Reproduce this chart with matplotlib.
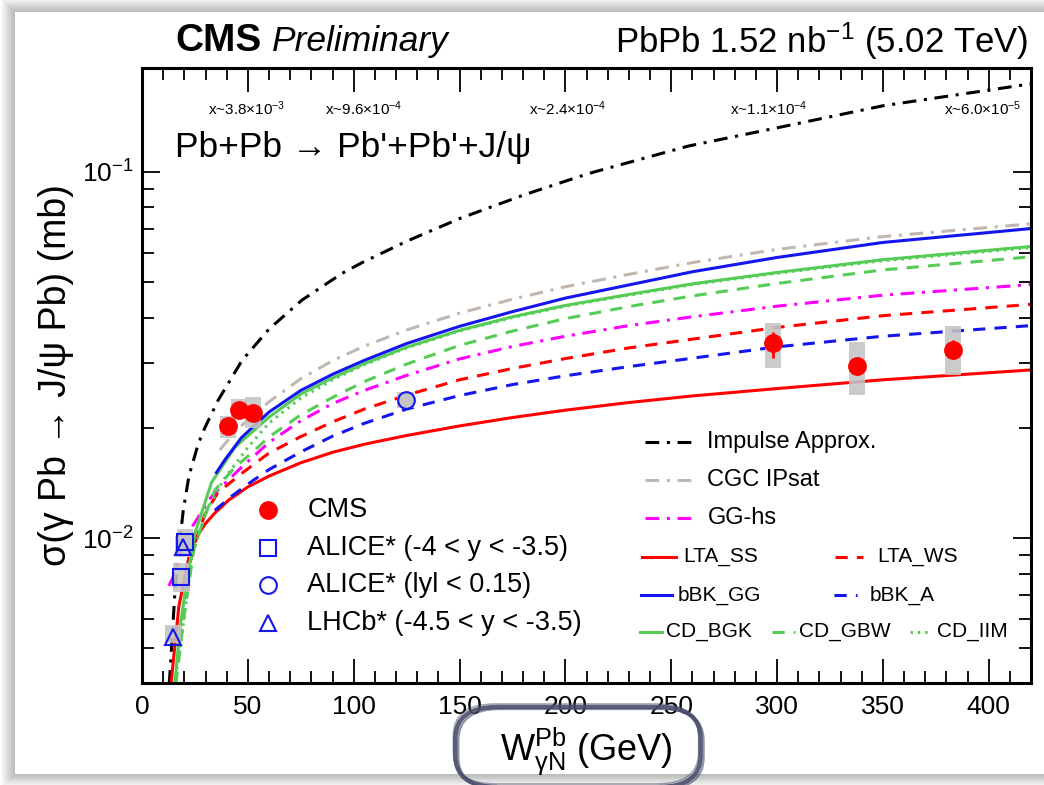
import numpy as np
import matplotlib
matplotlib.use("Agg")
import matplotlib.pyplot as plt
from matplotlib.patches import Rectangle, FancyBboxPatch
from matplotlib.ticker import LogLocator, MultipleLocator, NullFormatter

plt.rcParams['font.family'] = ['Liberation Sans', 'DejaVu Sans']
plt.rcParams['mathtext.fontset'] = 'custom'
plt.rcParams['mathtext.rm'] = 'Liberation Sans'
plt.rcParams['mathtext.it'] = 'Liberation Sans:italic'
plt.rcParams['mathtext.bf'] = 'Liberation Sans:bold'

# ---- model curves (W in GeV, sigma in mb) ----
w_ia = [12.9, 14.2, 15.6, 18, 19.5, 22.2, 26.6, 29.7, 36, 47.2, 60, 75.5, 94.3, 104,
        125, 150, 181, 211, 258, 300, 350, 420]
s_ia = [0.0040, 0.0053, 0.0072, 0.0100, 0.0119, 0.0148, 0.0181, 0.0200, 0.0238, 0.0305,
        0.0372, 0.0446, 0.0527, 0.0565, 0.0646, 0.0745, 0.0867, 0.0989, 0.1175, 0.1318,
        0.1514, 0.1738]

w_cgc = [36.8, 39.2, 45, 60, 75, 90, 105, 125, 150, 175, 200, 230, 260, 300, 350, 420]
s_cgc = [0.0174, 0.0181, 0.0198, 0.02355, 0.02723, 0.03048, 0.03342, 0.03698, 0.04111,
         0.04487, 0.04853, 0.05248, 0.05649, 0.06138, 0.06653, 0.07211]

w_gghs = [12.7, 14.6, 17.4, 24, 32.9, 47, 60, 75, 90, 105, 125, 150, 175, 200, 230, 260,
          300, 350, 420]
s_gghs = [0.0074, 0.0078, 0.0089, 0.0108, 0.0130, 0.0156, 0.01824, 0.02089, 0.02328, 0.02529,
          0.02780, 0.03083, 0.03334, 0.03556, 0.03802, 0.04018, 0.04295, 0.04603, 0.04920]

w_ltass = [13.7, 17.4, 22.2, 25, 29.7, 34.4, 41, 50.1, 60, 75, 90, 105, 125, 150, 175, 200,
           230, 260, 300, 350, 420]
s_ltass = [0.0040, 0.0065, 0.0089, 0.0099, 0.0109, 0.0117, 0.0127, 0.0138, 0.01476, 0.01605,
           0.01714, 0.01803, 0.01905, 0.02023, 0.02133, 0.02234, 0.02344, 0.02443, 0.02559,
           0.02704, 0.02877]

w_ltaws = [20, 25, 29.7, 35.8, 47, 60, 75, 90, 105, 125, 150, 175, 200, 230, 260, 300, 350, 420]
s_ltaws = [0.0075, 0.0097, 0.0116, 0.0133, 0.0150, 0.01706, 0.01892, 0.02075, 0.02249,
           0.02455, 0.02704, 0.02904, 0.03090, 0.03304, 0.03491, 0.03758, 0.04046, 0.04345]

w_bbkgg = [35.2, 39, 47, 60, 75, 90, 105, 125, 150, 175, 200, 230, 260, 300, 350, 420]
s_bbkgg = [0.0151, 0.0163, 0.0188, 0.02208, 0.02529, 0.02799, 0.03055, 0.03396, 0.03784,
           0.04150, 0.04519, 0.04909, 0.05333, 0.05834, 0.06412, 0.06998]

w_bbka = [34.4, 42.3, 52, 60, 75, 90, 105, 125, 150, 175, 200, 230, 260, 300, 350, 420]
s_bbka = [0.0119, 0.0130, 0.0143, 0.01538, 0.01718, 0.01897, 0.02056, 0.02249, 0.02449,
          0.02624, 0.02773, 0.02938, 0.03097, 0.03327, 0.03556, 0.03802]

w_bgk = [15.5, 18, 21.2, 25, 32.9, 43.9, 60, 75, 90, 105, 125, 150, 175, 200, 230, 260,
         300, 350, 420]
s_bgk = [0.0040, 0.0057, 0.0077, 0.0103, 0.0142, 0.0177, 0.02138, 0.02472, 0.02735, 0.02992,
         0.03319, 0.03690, 0.04018, 0.04315, 0.04624, 0.04943, 0.05309, 0.05754, 0.06252]

w_gbw = [16, 20, 24.5, 29.7, 34.4, 43.9, 52, 60, 75, 90, 105, 125, 150, 175, 200, 230, 260,
         300, 350, 420]
s_gbw = [0.0040, 0.0062, 0.0093, 0.0115, 0.0135, 0.0156, 0.0171, 0.01888, 0.02168, 0.02421,
         0.02673, 0.02985, 0.03357, 0.03673, 0.03972, 0.04285, 0.04581, 0.04955, 0.05395,
         0.05861]

w_iim = [15.5, 19.8, 23.6, 30, 38.4, 50.1, 60, 75, 90, 105, 125, 150, 175, 200, 230, 260,
         300, 350, 420]
s_iim = [0.0040, 0.0060, 0.0089, 0.0117, 0.0144, 0.0177, 0.0206, 0.0241, 0.02704, 0.02972,
         0.03304, 0.03673, 0.03999, 0.04295, 0.04603, 0.04920, 0.05284, 0.05715, 0.06209]

# ---- measurements ----
w_cms = [40.6, 45.8, 52.4, 298, 338, 383]
s_cms = [0.0202, 0.0224, 0.0220, 0.0340, 0.0294, 0.0327]
stat_lo_cms = [0.0202, 0.0224, 0.0220, 0.0311, 0.0278, 0.0308]
stat_hi_cms = [0.0202, 0.0224, 0.0220, 0.0366, 0.0312, 0.0348]
sys_lo_cms = [0.0188, 0.0212, 0.0200, 0.0292, 0.0246, 0.0279]
sys_hi_cms = [0.0216, 0.0239, 0.0242, 0.0387, 0.0343, 0.0379]

w_alice_fwd = [18.4, 20.3]
s_alice_fwd = [0.00783, 0.00975]
sys_lo_alice_fwd = [0.00713, 0.0093]
sys_hi_alice_fwd = [0.00855, 0.0106]

w_alice_mid = [124.5]
s_alice_mid = [0.0238]
sys_lo_alice_mid = [0.0226]
sys_hi_alice_mid = [0.0250]

w_lhcb = [14.6, 19.3]
s_lhcb = [0.00537, 0.00945]
sys_lo_lhcb = [0.00518, 0.0089]
sys_hi_lhcb = [0.00579, 0.0101]

x_labels = [r'x~3.8$\times$10$^{\mathregular{-3}}$', r'x~9.6$\times$10$^{\mathregular{-4}}$',
            r'x~2.4$\times$10$^{\mathregular{-4}}$', r'x~1.1$\times$10$^{\mathregular{-4}}$',
            r'x~6.0$\times$10$^{\mathregular{-5}}$']

# ---- styles ----
c_green = '#55cc55'
c_gray = '#c0b8b0'
lw = 2.2
styles = {
    'ia': dict(color='black', lw=lw, ls=(0, (4.5, 2.5, 1, 2.5))),
    'cgc': dict(color=c_gray, lw=lw, ls=(0, (4.5, 2.5, 1, 2.5))),
    'gghs': dict(color='#ff00ff', lw=lw, ls=(0, (4.5, 2.5, 1, 2.5))),
    'ltass': dict(color='#ff0000', lw=lw, ls='-'),
    'ltaws': dict(color='#ff0000', lw=lw, ls=(0, (4, 3))),
    'bbkgg': dict(color='#1515ee', lw=lw, ls='-'),
    'bbka': dict(color='#1515ee', lw=lw, ls=(0, (4, 3))),
    'bgk': dict(color=c_green, lw=lw, ls='-'),
    'gbw': dict(color=c_green, lw=lw, ls=(0, (4, 3))),
    'iim': dict(color=c_green, lw=lw, ls=(0, (0.8, 1.6))),
}

fig = plt.figure(figsize=(10.44, 7.85), dpi=100)
W, H = 1044.0, 785.0

# page card with soft shadow
for i in range(14, 0, -1):
    fig.patches.append(Rectangle(((15 - i) / W, (11 - i * 0.9) / H), (1060 + i) / W,
                                 (762 + i * 1.9) / H, transform=fig.transFigure,
                                 facecolor='black', edgecolor='none', alpha=0.02, zorder=-10))
fig.patches.append(Rectangle((15 / W, 11 / H), 1.1, 762 / H, transform=fig.transFigure,
                             facecolor='white', edgecolor='none', zorder=-9))

ax = fig.add_axes([142 / W, 1 - 683 / H, 889 / W, 615 / H])
ax.set_facecolor('white')

curves = [(w_ia, s_ia, 'ia'), (w_cgc, s_cgc, 'cgc'), (w_ltass, s_ltass, 'ltass'),
          (w_bbka, s_bbka, 'bbka'), (w_ltaws, s_ltaws, 'ltaws'), (w_gghs, s_gghs, 'gghs'),
          (w_gbw, s_gbw, 'gbw'), (w_iim, s_iim, 'iim'), (w_bgk, s_bgk, 'bgk'),
          (w_bbkgg, s_bbkgg, 'bbkgg')]
for w, s, key in curves:
    ax.plot(w, s, zorder=2, solid_joinstyle='round', **styles[key])

# systematic boxes
half = 3.8
box_sets = [(w_cms, sys_lo_cms, sys_hi_cms), (w_alice_fwd, sys_lo_alice_fwd, sys_hi_alice_fwd),
            (w_alice_mid, sys_lo_alice_mid, sys_hi_alice_mid), (w_lhcb, sys_lo_lhcb, sys_hi_lhcb)]
for ws, los, his in box_sets:
    for w, lo, hi in zip(ws, los, his):
        ax.add_patch(Rectangle((w - half, lo), 2 * half, hi - lo, facecolor='#c4c4c4',
                               edgecolor='none', alpha=0.88, zorder=3))

cms_err = [np.array(s_cms) - np.array(stat_lo_cms), np.array(stat_hi_cms) - np.array(s_cms)]
ax.errorbar(w_cms, s_cms, yerr=cms_err, fmt='o', color='#ff0000', ms=12.5, elinewidth=2,
            capsize=0, zorder=5)
ax.plot(w_alice_fwd, s_alice_fwd, 's', ms=11, mfc='none', mec='#1515ee', mew=1.5, zorder=5)
ax.plot(w_lhcb, s_lhcb, '^', ms=12, mfc='none', mec='#1515ee', mew=1.5, zorder=5)
ax.plot(w_alice_mid, s_alice_mid, 'o', ms=12, mfc='#c4c4c4', mec='#1515ee', mew=1.5, zorder=5)

ax.set_xlim(0, 420)
ax.set_yscale('log')
ax.set_ylim(0.00402, 0.192)
ax.xaxis.set_major_locator(MultipleLocator(50))
ax.xaxis.set_minor_locator(MultipleLocator(10))
ax.yaxis.set_major_locator(LogLocator(base=10, numticks=10))
ax.yaxis.set_minor_locator(LogLocator(base=10, subs=np.arange(2, 10), numticks=20))
ax.yaxis.set_minor_formatter(NullFormatter())
ax.tick_params(which='both', direction='in', top=True, right=True, width=1.3,
               labelsize=19)
ax.tick_params(axis='x', which='major', length=17, pad=9)
ax.tick_params(axis='x', which='minor', length=8.3)
ax.tick_params(axis='y', which='major', length=13, pad=6)
ax.tick_params(axis='y', which='minor', length=8.3)
for sp in ax.spines.values():
    sp.set_linewidth(2.2)

ax.set_xlabel('W$^{\\mathregular{Pb}}_{\\mathregular{\u03b3N}}$ (GeV)', fontsize=26,
              labelpad=4)
ax.set_ylabel('\u03c3(\u03b3 Pb \u2192 J/\u03c8 Pb) (mb)', fontsize=27, labelpad=6)

# header
fig.text(175 / W, 1 - 41 / H, 'CMS', fontsize=28, fontweight='bold', va='center')
fig.text(272 / W, 1 - 41 / H, 'Preliminary', fontsize=25.5, fontstyle='italic', va='center')
fig.text(1028 / W, 1 - 41 / H, 'PbPb 1.52 nb$^{\\mathregular{-1}}$ (5.02 TeV)', fontsize=25,
         ha='right', va='center')

# x (Bjorken) annotations above the curves
for lab, wpos in zip(x_labels, [49.5, 104.7, 201, 296, 397]):
    ax.text(wpos, 0.149, lab, fontsize=11, ha='center', va='center')

ax.text(0.037, 0.870, 'Pb+Pb \u2192 Pb\'+Pb\'+J/\u03c8', transform=ax.transAxes,
        fontsize=25.5, va='center')

# legends (drawn by hand to follow the original layout)
def leg_line(x0, x1, y, tx, label, key, fs):
    ax.plot([x0, x1], [y, y], transform=ax.transAxes, clip_on=False, **styles[key])
    ax.text(tx, y, label, transform=ax.transAxes, va='center', fontsize=fs)

leg_line(0.566, 0.624, 0.392, 0.636, 'Impulse Approx.', 'ia', 17)
leg_line(0.566, 0.624, 0.330, 0.636, 'CGC IPsat', 'cgc', 17)
leg_line(0.566, 0.624, 0.268, 0.636, 'GG-hs', 'gghs', 17)
leg_line(0.562, 0.601, 0.205, 0.609, 'LTA_SS', 'ltass', 15)
leg_line(0.780, 0.811, 0.205, 0.827, 'LTA_WS', 'ltaws', 15)
leg_line(0.561, 0.596, 0.143, 0.603, 'bBK_GG', 'bbkgg', 15)
leg_line(0.778, 0.804, 0.143, 0.819, 'bBK_A', 'bbka', 15)
leg_line(0.560, 0.585, 0.083, 0.589, 'CD_BGK', 'bgk', 15)
leg_line(0.709, 0.735, 0.083, 0.739, 'CD_GBW', 'gbw', 15)
leg_line(0.864, 0.886, 0.083, 0.894, 'CD_IIM', 'iim', 15)

marker_entries = [
    (dict(marker='o', ms=12.5, mfc='#ff0000', mec='#ff0000'), 'CMS'),
    (dict(marker='s', ms=11, mfc='none', mec='#1515ee', mew=1.5), 'ALICE* (-4 < y < -3.5)'),
    (dict(marker='o', ms=12, mfc='none', mec='#1515ee', mew=1.5), 'ALICE* (lyl < 0.15)'),
    (dict(marker='^', ms=12, mfc='none', mec='#1515ee', mew=1.5), 'LHCb* (-4.5 < y < -3.5)'),
]
for (mk, label), y in zip(marker_entries, [0.281, 0.220, 0.159, 0.098]):
    ax.plot([0.142], [y], transform=ax.transAxes, ls='none', clip_on=False, **mk)
    ax.text(0.186, y, label, transform=ax.transAxes, va='center', fontsize=19.5)

# hand drawn loop around the axis title
for dx, dy, lwid, al in [(0, 0, 3.2, 0.9), (3, -2, 1.6, 0.6), (-2, 3, 1.2, 0.5)]:
    fig.patches.append(FancyBboxPatch(((470 + dx) / W, (1 - 776 / H) + dy / H),
                                      216 / W, 58 / H,
                                      boxstyle='round,pad=0.014,rounding_size=0.04',
                                      transform=fig.transFigure, facecolor='none',
                                      edgecolor='#4a4d6b', lw=lwid, alpha=al, zorder=10))

fig.savefig('out.png', dpi=100)
